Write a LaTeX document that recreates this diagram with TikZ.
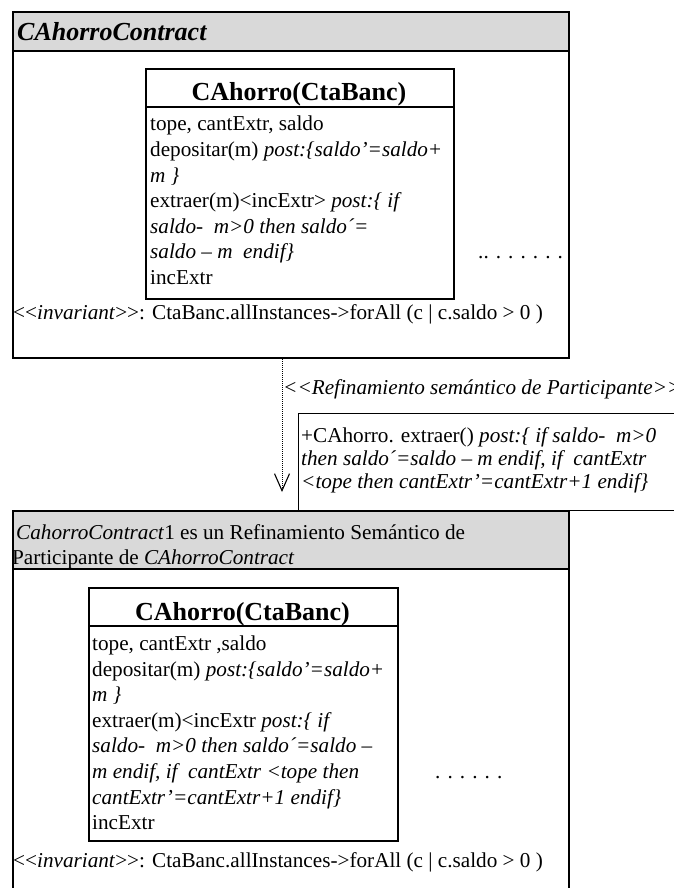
\documentclass[tikz,border=0pt]{standalone}
\usepackage{fontspec}
\setmainfont{Liberation Serif}
\usetikzlibrary{arrows.meta}
\begin{document}
\begin{tikzpicture}[x=1pt, y=-1pt,
  contractbox/.style={draw, line width=2.4pt, anchor=north west, inner sep=0pt, minimum width=556},
  headbar/.style={contractbox, fill=HeadGray},
  classbox/.style={draw, line width=2.2pt, anchor=north west, inner sep=0pt},
  classname/.style={anchor=base, inner sep=0pt, font=\fontsize{26}{30}\selectfont\bfseries},
  rows/.style={anchor=north west, align=left, inner sep=0pt, font=\fontsize{21.2}{25.6}\selectfont},
  plain/.style={anchor=base west, inner sep=0pt, font=\fontsize{21.2}{25.6}\selectfont},
  refine/.style={densely dotted, line width=1pt, -{Straight Barb[length=17pt, width=15pt, line width=1.1pt]}}]
\definecolor{HeadGray}{RGB}{217,217,217}
\useasboundingbox (0,0) rectangle (674,888);

\node[contractbox, minimum height=346] (upper) at (12,11) {};
\node[headbar, minimum height=39] (upperhead) at (12,11) {};
\node[anchor=base west, inner sep=0pt, font=\fontsize{26}{30}\selectfont\bfseries\itshape] (uppername) at (17,41) {CAhorroContract};
\node[classbox, minimum width=308, minimum height=230] (cls1) at (145,68) {};
\node[classname] (cls1name) at (299,101) {CAhorro(CtaBanc)};
\draw[line width=2.2pt] (145,107) -- (453,107);
\node[rows] (cls1body) at (150,116) {tope, cantExtr, saldo\\
depositar(m) \textit{post:\{saldo'=saldo+}\\
\textit{m \}}\\
extraer(m)<incExtr> \textit{post:\{ if}\\
\textit{saldo-\ \ m>0 then saldo´=}\\
\textit{saldo – m\ \ endif\}}\\
incExtr};
\node[plain] (dots1) at (478,258.5) {.. . . . . . .};
\node[plain] (inv1) at (13,319) {<{}<\textit{invariant}>{}>: CtaBanc.allInstances->forAll (c | c.saldo > 0 )};

\coordinate (tip) at (282,492);
\draw[refine] (upper.south -| tip) -- (tip);
\node[plain, font=\fontsize{21.2}{25.6}\selectfont\itshape] (refinelabel) at (283,394) {<{}<Refinamiento semántico de Participante>{}>};
\node[draw, line width=1.2pt, anchor=north west, inner sep=0pt, minimum width=420, minimum height=97] (note) at (298,413) {};
\node[rows, font=\fontsize{21.2}{23}\selectfont] (notetext) at (301,427.5) {+CAhorro. extraer() \textit{post:\{ if saldo-\ \ m>0}\\
\textit{then saldo´=saldo – m endif, if\ \ cantExtr}\\
\textit{<tope then cantExtr'=cantExtr+1 endif\}}};

\node[contractbox, minimum height=420] (lower) at (12,510) {};
\node[headbar, minimum height=58] (lowerhead) at (12,510) {};
\node[rows, font=\fontsize{21.2}{25}\selectfont] (lowername) at (12,524.5) {\hspace*{4pt}\textit{CahorroContract}1 es un Refinamiento Semántico de\\
Participante de \textit{CAhorroContract}};
\node[classbox, minimum width=309, minimum height=253] (cls2) at (88,587) {};
\node[classname] (cls2name) at (242.5,620) {CAhorro(CtaBanc)};
\draw[line width=2.2pt] (88,626) -- (397,626);
\node[rows] (cls2body) at (92,635.5) {tope, cantExtr ,saldo\\
depositar(m) \textit{post:\{saldo'=saldo+}\\
\textit{m \}}\\
extraer(m)<incExtr \textit{post:\{ if}\\
\textit{saldo-\ \ m>0 then saldo´=saldo –}\\
\textit{m endif, if\ \ cantExtr <tope then}\\
\textit{cantExtr'=cantExtr+1 endif\}}\\
incExtr};
\node[plain] (dots2) at (435,778) {. . . . . .};
\node[plain] (inv2) at (13,867) {<{}<\textit{invariant}>{}>: CtaBanc.allInstances->forAll (c | c.saldo > 0 )};
\end{tikzpicture}
\end{document}
